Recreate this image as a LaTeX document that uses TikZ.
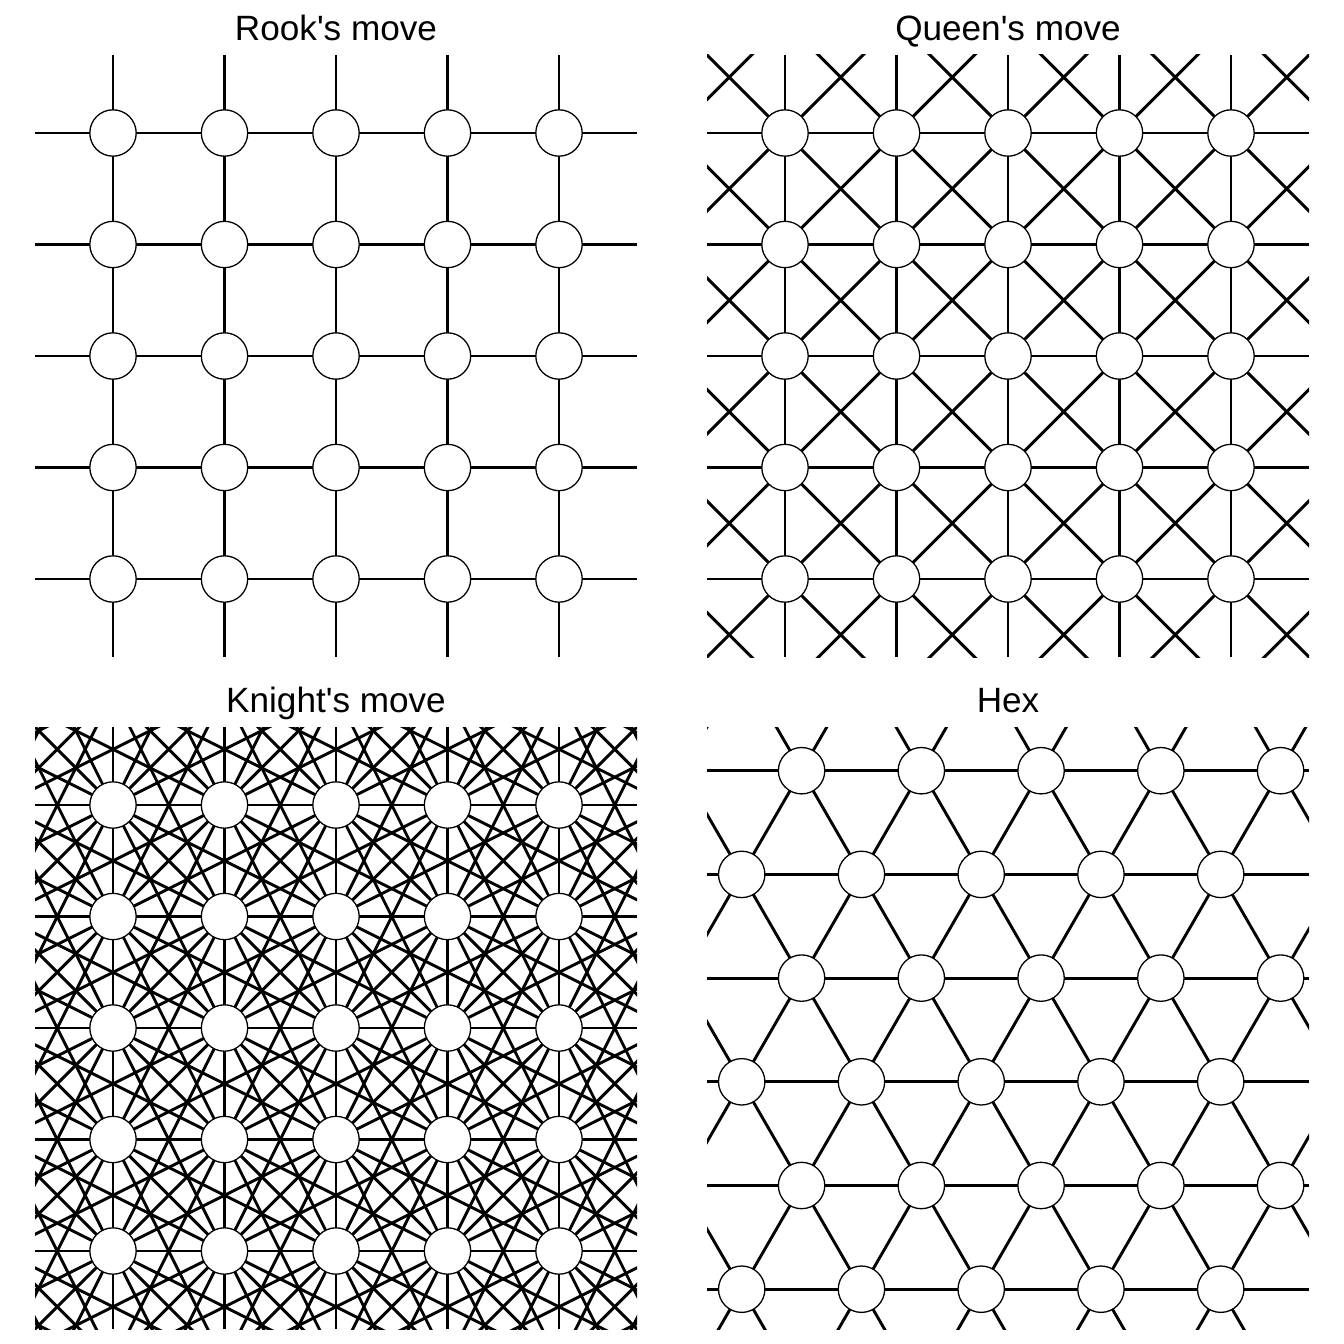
\documentclass[tikz,border=0pt]{standalone}
\usepackage{fontspec}
\setmainfont{Liberation Sans}
\begin{document}
\begin{tikzpicture}[x=0.1mm,y=-0.1mm,
  edge/.style={line width=0.29mm, black},
  vert/.style={circle, draw=black, fill=white, line width=0.13mm, minimum size=4.64mm, inner sep=0pt},
  ttl/.style={anchor=base, inner sep=0pt, font=\fontsize{10}{12}\selectfont}]
\fill[white] (0,0) rectangle (1344,1344);
\useasboundingbox (0,0) rectangle (1344,1344);
\def\s{111.5}
\def\ha{119.75}
\def\hh{103.7}
% ---------- Rook ----------
\begin{scope}
  \clip (35,55) rectangle (637,657);
  \foreach \i in {-2,...,2} {
    \draw[edge] ({336+(\i)*\s},55) -- ({336+(\i)*\s},657);
    \draw[edge] (35,{356+(\i)*\s}) -- (637,{356+(\i)*\s});
  }
\end{scope}
% ---------- Queen ----------
\begin{scope}
  \clip (707,55) rectangle (1309,657);
  \foreach \i in {-2,...,2} {
    \draw[edge] ({1008+(\i)*\s},55) -- ({1008+(\i)*\s},657);
    \draw[edge] (707,{356+(\i)*\s}) -- (1309,{356+(\i)*\s});
  }
  \foreach \k in {-6,...,6} {
    \draw[edge] ({1008+(\k)*\s-800},{356-800}) -- ({1008+(\k)*\s+800},{356+800});
    \draw[edge] ({1008+(\k)*\s+800},{356-800}) -- ({1008+(\k)*\s-800},{356+800});
  }
\end{scope}
% ---------- Knight ----------
\begin{scope}
  \clip (35,727) rectangle (637,1329);
  \foreach \i in {-2,...,2} {
    \draw[edge] ({336+(\i)*\s},727) -- ({336+(\i)*\s},1329);
    \draw[edge] (35,{1028+(\i)*\s}) -- (637,{1028+(\i)*\s});
  }
  \foreach \k in {-6,...,6} {
    \draw[edge] ({336+(\k)*\s-800},{1028-800}) -- ({336+(\k)*\s+800},{1028+800});
    \draw[edge] ({336+(\k)*\s+800},{1028-800}) -- ({336+(\k)*\s-800},{1028+800});
  }
  \foreach \k in {-9,...,9} {
    \draw[edge] ({336-7*\s},{1028+(-(\k)-14)*\s}) -- ({336+7*\s},{1028+(-(\k)+14)*\s});
    \draw[edge] ({336-7*\s},{1028+((\k)+14)*\s}) -- ({336+7*\s},{1028+((\k)-14)*\s});
    \draw[edge] ({336+((\k)-14)*\s},{1028-7*\s}) -- ({336+((\k)+14)*\s},{1028+7*\s});
    \draw[edge] ({336+((\k)+14)*\s},{1028-7*\s}) -- ({336+((\k)-14)*\s},{1028+7*\s});
  }
\end{scope}
% ---------- Hex ----------
\begin{scope}
  \clip (707,727) rectangle (1309,1329);
  \foreach \n in {-1,...,4} {
    \draw[edge] (707,{874.4+(\n)*\hh}) -- (1309,{874.4+(\n)*\hh});
  }
  \foreach \m in {-6,...,10} {
    \draw[edge] ({741.7+(\m)*\ha-2*\ha},{874.4-4*\hh}) -- ({741.7+(\m)*\ha+4*\ha},{874.4+8*\hh});
    \draw[edge] ({741.7+(\m)*\ha+2*\ha},{874.4-4*\hh}) -- ({741.7+(\m)*\ha-4*\ha},{874.4+8*\hh});
  }
\end{scope}
% ---------- vertices ----------
\foreach \i in {0,...,4} {
  \foreach \j in {0,...,4} {
    \node[vert] (r-\i-\j) at ({113+\i*\s},{133+\j*\s}) {};
    \node[vert] (q-\i-\j) at ({785+\i*\s},{133+\j*\s}) {};
    \node[vert] (k-\i-\j) at ({113+\i*\s},{805+\j*\s}) {};
  }
}
\foreach \r in {0,...,5} {
  \foreach \c in {0,...,4} {
    \node[vert] (h-\r-\c) at ({741.7+\c*\ha+mod(\r+1,2)*0.5*\ha},{770.7+\r*\hh}) {};
  }
}
% ---------- titles ----------
\node[ttl] (t-rook) at (336,40.7) {Rook\textquotesingle s move};
\node[ttl] (t-queen) at (1008,40.7) {Queen\textquotesingle s move};
\node[ttl] (t-knight) at (336,712.7) {Knight\textquotesingle s move};
\node[ttl] (t-hex) at (1008,712.7) {Hex};
\end{tikzpicture}
\end{document}
